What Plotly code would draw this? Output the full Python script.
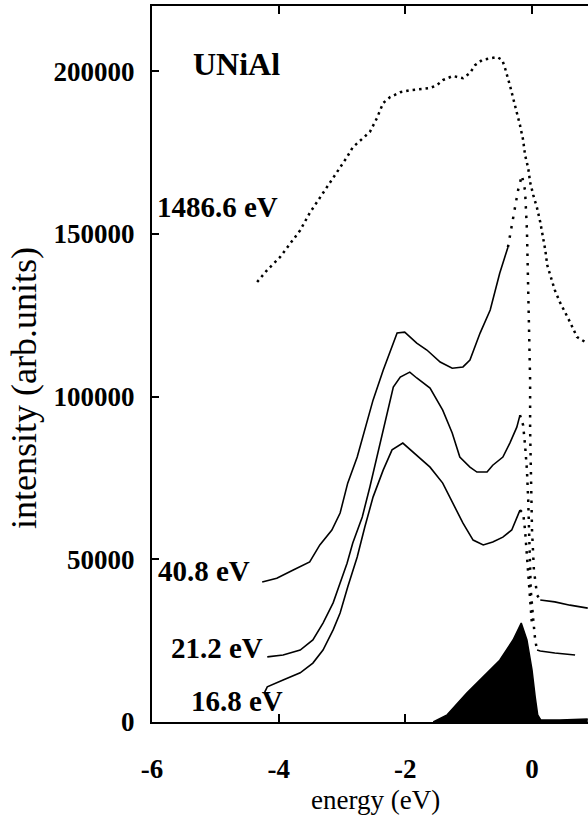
import plotly.graph_objects as go

# ---- data ----
xps_x = [-4.34, -4.18, -3.98, -3.82, -3.66, -3.51, -3.35, -3.19, -3.03, -2.92, -2.83, -2.67, -2.56,
         -2.45, -2.35, -2.24, -2.08, -1.93, -1.61, -1.50, -1.41, -1.25, -1.09, -0.98, -0.90, -0.79,
         -0.55, -0.47, -0.43, -0.35, -0.30, -0.24, -0.19, -0.14, -0.11, -0.06, -0.03, 0.02, 0.08,
         0.13, 0.17, 0.21, 0.24, 0.30, 0.36, 0.44, 0.52, 0.60, 0.71, 0.87]
xps_y = [135200, 138900, 142800, 147100, 151100, 156400, 161000, 165900, 170500, 173600, 176600,
         179400, 181300, 185500, 190200, 192000, 193500, 194100, 194800, 195700, 197200, 198500,
         197800, 199400, 201800, 203400, 204300, 203400, 201200, 195700, 192000, 188000, 183400,
         178800, 174200, 170200, 165900, 161900, 157900, 153600, 149600, 145000, 140400, 136400,
         132700, 129000, 126000, 122900, 118300, 116400]

e408_x = [-4.26, -4.03, -3.77, -3.51, -3.35, -3.16, -3.03, -2.91, -2.76, -2.64, -2.51, -2.35, -2.13,
          -2.01, -1.82, -1.66, -1.45, -1.26, -1.09, -0.98, -0.82, -0.66, -0.51, -0.38]
e408_y = [43000, 44200, 46700, 49200, 54400, 59000, 64200, 73400, 81400, 89700, 98900, 108100,
          119500, 119800, 116400, 114300, 110600, 108700, 109100, 111200, 119500, 126600, 137900,
          145900]
e408_edge_x = [-0.38, -0.30, -0.22, -0.16, -0.11, -0.08, -0.06, -0.05, -0.03, -0.03, -0.02, 0.0,
               0.03, 0.08, 0.13]
e408_edge_y = [145900, 155100, 163400, 168000, 163400, 151100, 135800, 120400, 105100, 89700,
               74300, 59000, 46700, 39000, 37500]
e408_tail_x = [0.13, 0.36, 0.60, 0.88]
e408_tail_y = [37500, 36900, 35900, 35000]

e212_x = [-4.18, -3.93, -3.66, -3.46, -3.30, -3.14, -3.03, -2.92, -2.83, -2.68, -2.56, -2.45, -2.35,
          -2.19, -2.08, -1.93, -1.82, -1.61, -1.41, -1.26, -1.14, -0.98, -0.87, -0.71, -0.62,
          -0.46, -0.35, -0.24, -0.19]
e212_y = [20000, 20600, 22100, 25200, 30400, 36600, 42700, 48800, 55000, 63000, 72200, 81400,
          89700, 102900, 106000, 107500, 105700, 102600, 95800, 88800, 81400, 78300, 76800, 76800,
          78900, 81400, 85700, 90600, 94300]
e212_edge_x = [-0.19, -0.14, -0.11, -0.08, -0.06, -0.05, -0.03, -0.02, 0.02, 0.05, 0.08]
e212_edge_y = [94300, 91200, 85100, 77400, 68200, 59000, 49800, 40600, 31300, 25200, 22100]
e212_tail_x = [0.08, 0.13, 0.36, 0.68]
e212_tail_y = [22100, 21800, 21200, 20600]

e168_x = [-4.22, -4.18, -3.93, -3.66, -3.46, -3.30, -3.14, -3.03, -2.91, -2.76, -2.64, -2.51, -2.35,
          -2.21, -2.04, -1.88, -1.61, -1.41, -1.25, -1.09, -0.93, -0.77, -0.62, -0.46, -0.32,
          -0.24, -0.19]
e168_y = [9200, 10800, 12900, 15100, 18100, 22100, 28300, 33500, 41500, 50700, 59900, 69100, 77400,
          83600, 85700, 82900, 78300, 73400, 67300, 61100, 55900, 54400, 55300, 56800, 59000,
          63000, 65100]
e168_edge_x = [-0.19, -0.14, -0.11, -0.08, -0.06, -0.03, 0.0]
e168_edge_y = [65100, 64200, 59000, 51300, 43600, 35900, 29800]

f5_x = [-1.56, -1.34, -1.03, -0.77, -0.51, -0.30, -0.17, -0.08, 0.0, 0.05, 0.09, 0.14, 0.44, 0.88]
f5_y = [0, 2200, 8900, 13800, 19000, 25200, 30400, 25200, 16000, 7700, 2200, 600, 600, 900]

x_ticks = [-6, -4, -2, 0]
y_ticks = [0, 50000, 100000, 150000, 200000]

labels = ["UNiAl", "1486.6 eV", "40.8 eV", "21.2 eV", "16.8 eV"]
label_x = [-4.67, -4.96, -5.18, -4.97, -4.66]
label_y = [202100, 158200, 46400, 22700, 6450]
label_size = [32, 29, 29, 29, 29]

FONT = "Liberation Serif"
BLACK = "#000000"

fig = go.Figure()

def solid(x, y, w=1.6):
    fig.add_trace(go.Scatter(x=x, y=y, mode="lines", line=dict(color=BLACK, width=w),
                             showlegend=False, hoverinfo="skip"))

def dotted(x, y, dash="2.5px,4px", w=2.5):
    fig.add_trace(go.Scatter(x=x, y=y, mode="lines", line=dict(color=BLACK, width=w, dash=dash),
                             showlegend=False, hoverinfo="skip"))

# filled 5f-like area
fig.add_trace(go.Scatter(x=f5_x, y=f5_y, mode="lines", fill="tozeroy", fillcolor=BLACK,
                         line=dict(color=BLACK, width=1.5), showlegend=False, hoverinfo="skip"))

dotted(xps_x, xps_y)

solid(e408_x, e408_y)
dotted(e408_edge_x, e408_edge_y, dash="2.5px,7px")
solid(e408_tail_x, e408_tail_y)

solid(e212_x, e212_y)
dotted(e212_edge_x, e212_edge_y, dash="2.5px,6px")
solid(e212_tail_x, e212_tail_y)

solid(e168_x, e168_y)
dotted(e168_edge_x, e168_edge_y, dash="2.5px,6px")

for t, lx, ly, s in zip(labels, label_x, label_y, label_size):
    fig.add_annotation(x=lx, y=ly, text="<b>" + t + "</b>", showarrow=False, xanchor="center",
                       yanchor="middle", font=dict(family=FONT, size=s, color=BLACK))

fig.add_annotation(xref="paper", yref="paper", x=-0.2936, y=0.4665, text="intensity (arb.units)",
                   textangle=-90, showarrow=False, xanchor="center", yanchor="middle",
                   font=dict(family=FONT, size=36, color=BLACK))
fig.add_annotation(xref="paper", yref="paper", x=0.5115, y=-0.1089, text="energy (eV)",
                   showarrow=False, xanchor="center", yanchor="middle",
                   font=dict(family=FONT, size=27, color=BLACK))

fig.update_layout(
    width=588, height=815,
    margin=dict(l=152, r=0, t=6, b=93),
    paper_bgcolor="white", plot_bgcolor="white",
    showlegend=False,
    xaxis=dict(range=[-6, 0.884], tickvals=x_ticks, ticktext=["<b>%d</b>" % v for v in x_ticks],
               ticks="inside", ticklen=8, tickwidth=1.5, tickcolor=BLACK,
               showline=True, linecolor=BLACK, linewidth=2, mirror="ticks",
               showgrid=False, zeroline=False, ticklabelstandoff=22,
               tickfont=dict(family=FONT, size=27, color=BLACK)),
    yaxis=dict(range=[0, 220000], tickvals=y_ticks, ticktext=["<b>%d</b>" % v for v in y_ticks],
               ticks="inside", ticklen=7, tickwidth=1.5, tickcolor=BLACK,
               showline=True, linecolor=BLACK, linewidth=2, mirror=False,
               showgrid=False, zeroline=False, ticklabelstandoff=10,
               tickfont=dict(family=FONT, size=27, color=BLACK)),
)

fig.write_html("out.html")
